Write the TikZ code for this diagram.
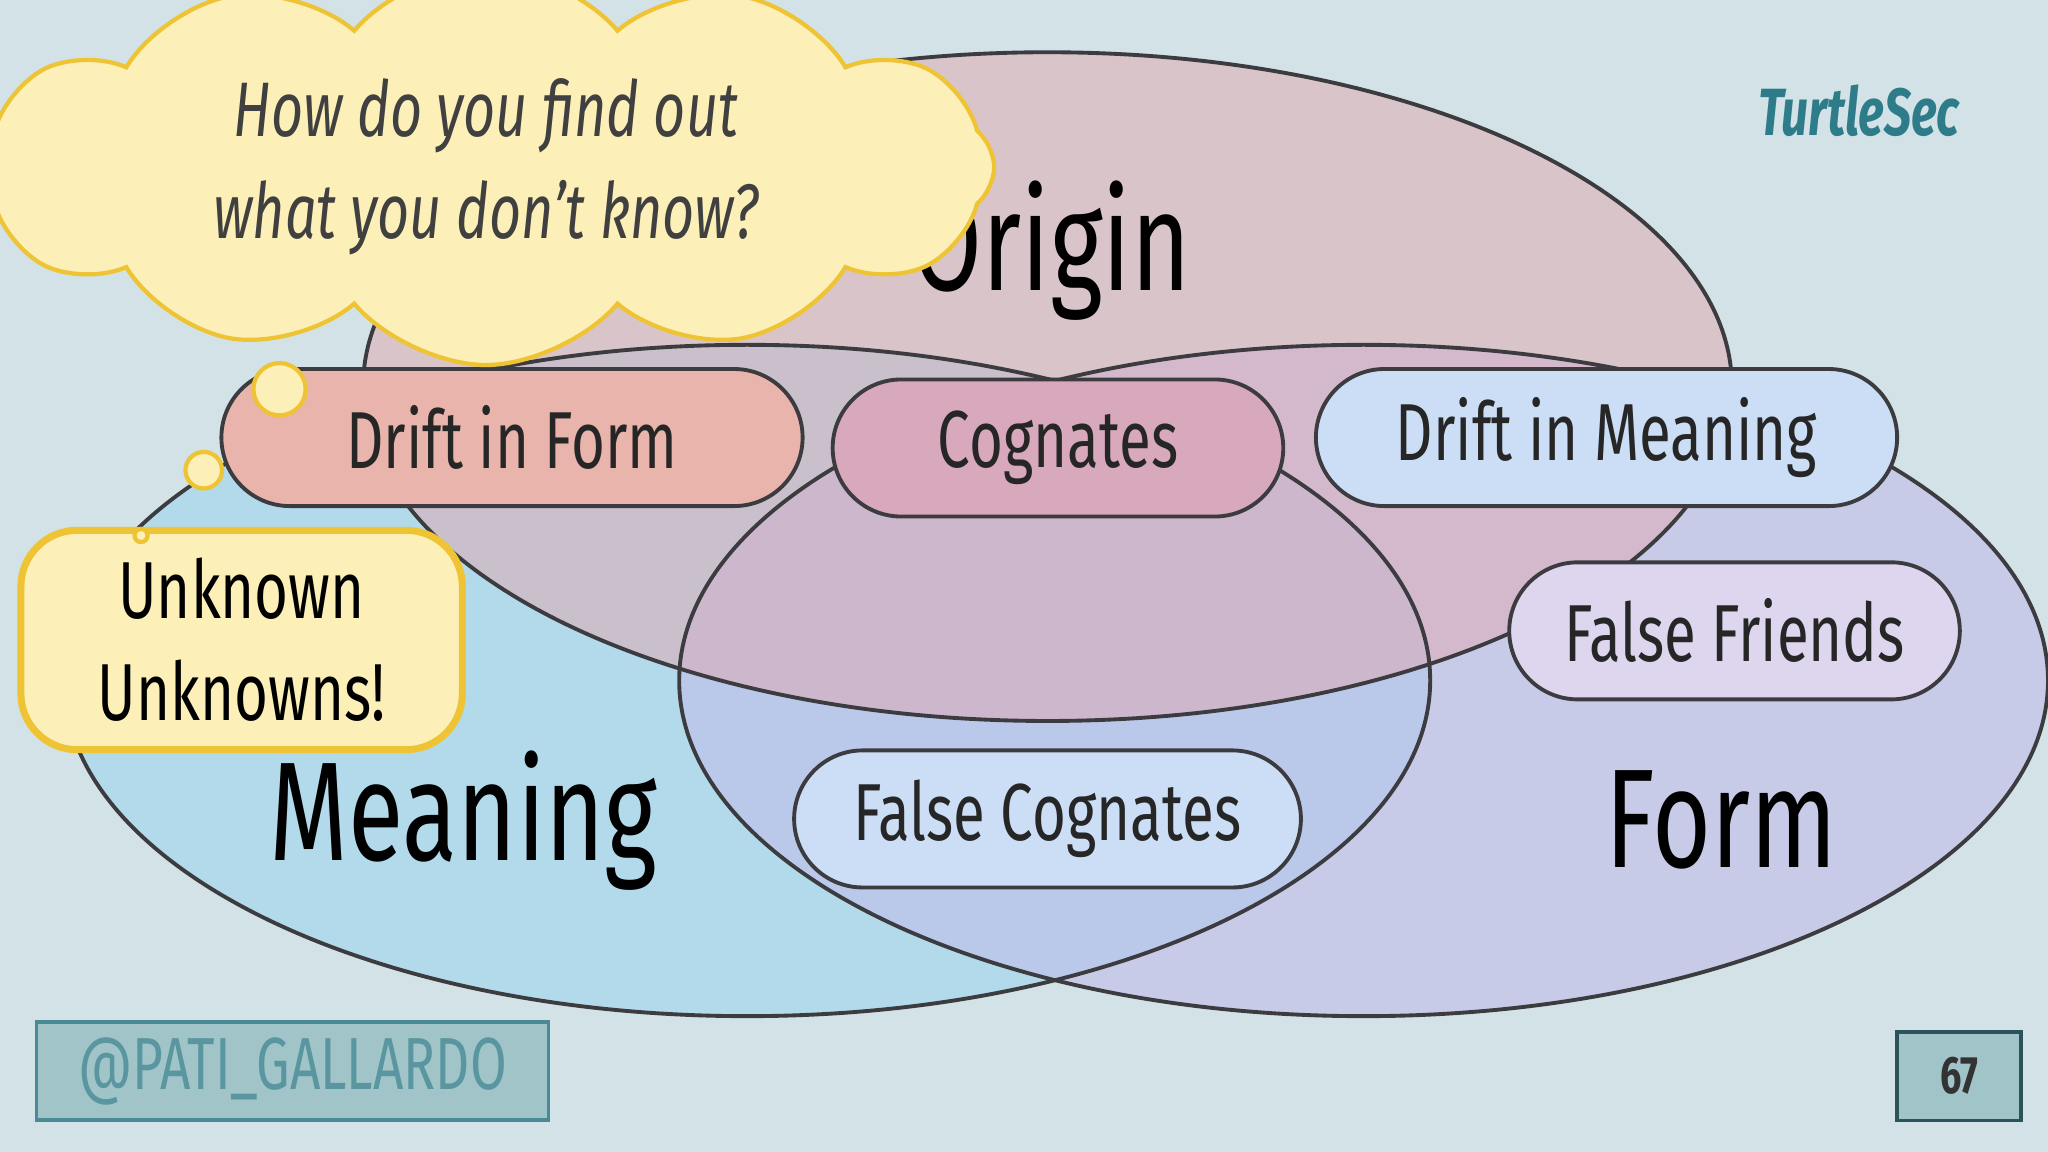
\documentclass[tikz,border=0pt]{standalone}
\usepackage{fontspec}
\setmainfont[FakeStretch=0.72]{Fira Sans}
\usetikzlibrary{shapes.symbols,shapes.geometric}
\definecolor{bg}{HTML}{D2E2E6}
\definecolor{edge}{HTML}{3C3C40}
\definecolor{org}{HTML}{E0A8B0}
\definecolor{mea}{HTML}{A8D8EC}
\definecolor{frm}{HTML}{C0BCEA}
\definecolor{yel}{HTML}{FCEFB8}
\definecolor{yeledge}{HTML}{EEC434}
\definecolor{teal}{HTML}{2E7C8A}
\definecolor{pdf}{HTML}{E8B4AC}
\definecolor{pcog}{HTML}{D8A8BC}
\definecolor{pblue}{HTML}{CCDEF6}
\definecolor{pff}{HTML}{DED6EE}
\definecolor{tagfill}{HTML}{A0C4C8}
\definecolor{tagedge}{HTML}{4A8A94}
\definecolor{tagtext}{HTML}{5A96A0}
\tikzset{
  pill/.style={draw=edge,line width=1.1pt,rounded corners=19.5pt,minimum height=39pt,font=\fontsize{23}{28}\selectfont,text=black!85},
  big/.style={font=\fontsize{40}{46}\selectfont,text=black},
  bub/.style={fill=yel,draw=yeledge,line width=1.2pt},
  setline/.style={draw=edge,line width=1.1pt}
}
\begin{document}
\begin{tikzpicture}[x=0.01306cm,y=-0.01306cm]
\fill[bg] (0,0) rectangle (1568,882);
\useasboundingbox (0,0) rectangle (1568,882);
\coordinate (origin) at (802,296);
\coordinate (meaning) at (572,521);
\coordinate (form) at (1044,521);
\fill[mea,fill opacity=0.75] (meaning) ellipse [x radius=523, y radius=257];
\fill[frm,fill opacity=0.6] (form) ellipse [x radius=524, y radius=257];
\fill[org,fill opacity=0.5] (origin) ellipse [x radius=524, y radius=256];
\draw[setline] (origin) ellipse [x radius=524, y radius=256];
\draw[setline] (meaning) ellipse [x radius=523, y radius=257];
\draw[setline] (form) ellipse [x radius=524, y radius=257];
\node[big] (to) at (805,192) {Origin};
\node[big] (tm) at (355,628) {Meaning};
\node[big] (tf) at (1318,628) {Form};
\node[pill,fill=pdf,minimum width=445*0.01306cm] (dif) at (392,335) {Drift in Form};
\node[pill,fill=pcog,minimum width=345*0.01306cm] (cog) at (810,343) {Cognates};
\node[pill,fill=pblue,minimum width=445*0.01306cm] (dim) at (1230,335) {Drift in Meaning};
\node[pill,fill=pff,minimum width=345*0.01306cm] (ff) at (1328,483) {False Friends};
\node[pill,fill=pblue,minimum width=388*0.01306cm] (fc) at (802,627) {False Cognates};
\node[cloud,cloud puffs=12,cloud puff arc=100,aspect=3.6,bub,minimum width=640*0.01306cm,minimum height=160*0.01306cm,align=center,font=\fontsize{22}{29}\selectfont\itshape,text=black!75] (q) at (372,128) {How do you find out\\what you don’t know?};
\node[circle,bub,minimum size=40*0.01306cm,inner sep=0] (b1) at (214,298) {};
\node[circle,bub,minimum size=28*0.01306cm,inner sep=0] (b2) at (156,360) {};
\node[draw=yeledge,fill=yel,line width=2pt,rounded corners=16pt,minimum width=338*0.01306cm,minimum height=168*0.01306cm,align=center,font=\fontsize{23}{29}\selectfont] (uu) at (185,490) {Unknown\\Unknowns!};
\node[circle,bub,minimum size=10*0.01306cm,inner sep=0] (b3) at (108,410) {};
\node[font=\fontsize{19}{22}\selectfont\bfseries\itshape,text=teal] (ts) at (1423,85) {TurtleSec};
\node[draw=tagedge,fill=tagfill,line width=1pt,minimum width=392*0.01306cm,minimum height=75*0.01306cm,font=\fontsize{21}{26}\selectfont,text=tagtext] (pg) at (224,820) {@PATI\_GALLARDO};
\node[draw=tagedge!60!black,fill=tagfill,line width=1pt,minimum width=95*0.01306cm,minimum height=68*0.01306cm,font=\fontsize{15}{18}\selectfont\bfseries,text=black!80] (pn) at (1500,824) {67};
\end{tikzpicture}
\end{document}
